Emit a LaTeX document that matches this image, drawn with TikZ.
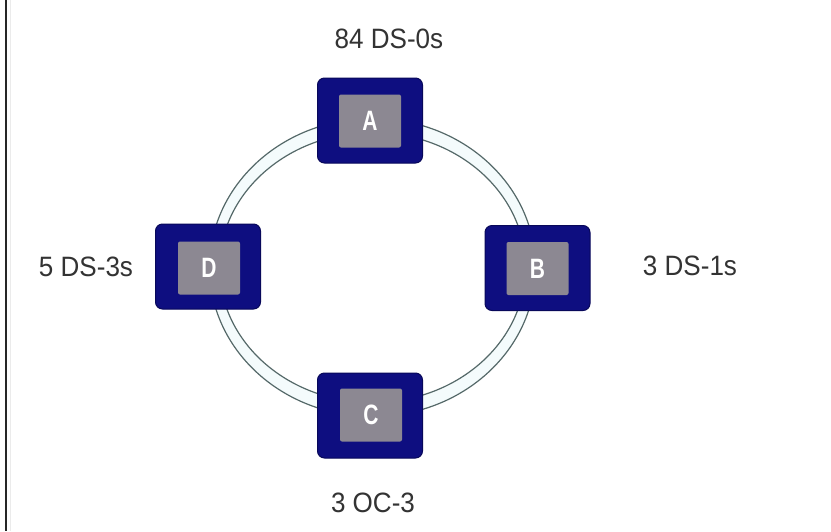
\documentclass[tikz,border=0pt]{standalone}
\usepackage{fontspec}
\setmainfont{Liberation Sans}
\newcommand{\narrowtxt}[1]{\scalebox{0.75}[1]{#1}}
\begin{document}
\begin{tikzpicture}[x=1pt,y=-1pt,
  navy/.style={draw=navyedge,fill=navyfill,line width=1pt,rounded corners=7pt,minimum width=105pt,minimum height=85pt,inner sep=0pt},
  core/.style={fill=coregray,rounded corners=2pt,minimum width=62pt,minimum height=53pt,inner sep=0pt,text=white,font=\fontsize{28}{28}\selectfont\bfseries},
  lbl/.style={anchor=base,inner sep=0pt,font=\fontsize{28}{28}\selectfont,text=black!80,xscale=0.93},
  ringline/.style={draw=ringcol,line width=1.2pt}]
\definecolor{navyfill}{RGB}{14,14,128}
\definecolor{navyedge}{RGB}{8,8,90}
\definecolor{coregray}{RGB}{140,136,146}
\definecolor{ringcol}{RGB}{85,105,105}
\definecolor{ringfill}{RGB}{244,251,252}
\useasboundingbox (0,0) rectangle (831,531);
\fill[white] (0,0) rectangle (831,531);
\draw[black!85,line width=2pt] (6,0) -- (6,531);
\draw[black!8,line width=1pt] (10,0) -- (10,531);
\coordinate (ctr) at (372.5,267.5);
\fill[ringfill,even odd rule] (ctr) ellipse [x radius=163,y radius=149] (ctr) ellipse [x radius=153,y radius=135];
\draw[ringline] (ctr) ellipse [x radius=163,y radius=149];
\draw[ringline] (ctr) ellipse [x radius=153,y radius=135];
\node[navy] (A) at (370,120.5) {};
\node[navy] (B) at (537.5,268) {};
\node[navy] (C) at (370,415.5) {};
\node[navy] (D) at (208,266.5) {};
\node[core] (Ai) at (370,121) {\narrowtxt{A}};
\node[core] (Bi) at (537.5,268.5) {\narrowtxt{B}};
\node[core] (Ci) at (371,415) {\narrowtxt{C}};
\node[core] (Di) at (209,268) {\narrowtxt{D}};
\node[lbl] (la) at (389,48) {84 DS-0s};
\node[lbl] (lb) at (690,275) {3 DS-1s};
\node[lbl] (lc) at (373,512) {3 OC-3};
\node[lbl] (ld) at (86,276) {5 DS-3s};
\end{tikzpicture}
\end{document}
